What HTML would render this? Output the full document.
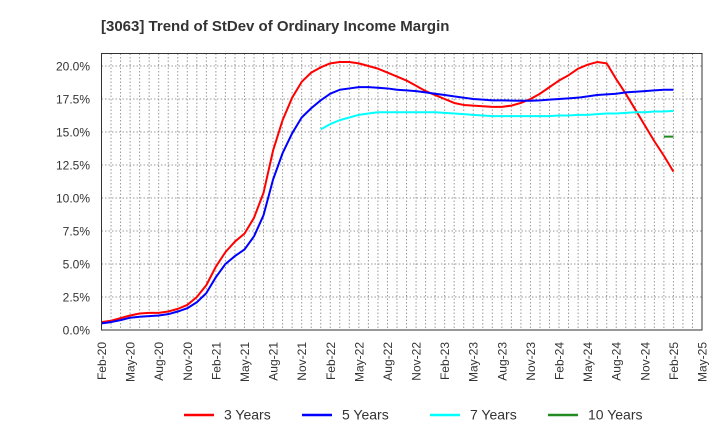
<!DOCTYPE html>
<html><head><meta charset="utf-8"><style>
body{margin:0;background:#fff;}
svg{display:block;font-family:"Liberation Sans",Arial,sans-serif;}
</style></head><body>
<svg id="chart" width="720" height="440" viewBox="0 0 720 440" xmlns="http://www.w3.org/2000/svg">
<text x="101" y="31" font-size="15" font-weight="bold" fill="#333">[3063]  Trend of StDev of Ordinary Income Margin</text>
<g id="grid"></g>
<g id="series"></g>
<rect x="101.5" y="53.5" width="600.5" height="276.5" fill="none" stroke="#333" stroke-width="1"/>
<g id="yaxis"></g>
<g id="xaxis"></g>
<g id="legend"></g>
</svg>
<script>
const xTickLabels=["Feb-20","May-20","Aug-20","Nov-20","Feb-21","May-21","Aug-21","Nov-21","Feb-22","May-22","Aug-22","Nov-22","Feb-23","May-23","Aug-23","Nov-23","Feb-24","May-24","Aug-24","Nov-24","Feb-25","May-25"];
const yTickValues=[0,2.5,5,7.5,10,12.5,15,17.5,20];
const seriesNames=["3 Years","5 Years","7 Years","10 Years"];
const seriesColors=["#ff0000","#0000ff","#00ffff","#228b22"];
const red=[0.6,0.7,0.9,1.1,1.25,1.3,1.3,1.4,1.6,1.9,2.5,3.4,4.8,5.9,6.7,7.3,8.5,10.4,13.6,15.9,17.6,18.8,19.5,19.9,20.2,20.3,20.3,20.2,20.0,19.8,19.5,19.2,18.9,18.5,18.1,17.8,17.5,17.2,17.05,17.0,16.95,16.9,16.9,17.0,17.2,17.5,17.9,18.4,18.9,19.3,19.8,20.1,20.3,20.2,19.0,17.9,16.7,15.5,14.3,13.2,12.0];
const blue=[0.5,0.6,0.75,0.93,1.0,1.05,1.1,1.2,1.4,1.65,2.1,2.8,4.0,5.0,5.6,6.1,7.1,8.7,11.4,13.4,14.9,16.1,16.8,17.4,17.9,18.2,18.3,18.4,18.4,18.35,18.3,18.2,18.15,18.1,18.0,17.9,17.8,17.7,17.6,17.5,17.45,17.4,17.4,17.38,17.37,17.37,17.4,17.45,17.5,17.55,17.6,17.7,17.8,17.85,17.9,18.0,18.05,18.1,18.15,18.2,18.2];
const cyanStart=23;
const cyan=[15.2,15.6,15.9,16.1,16.3,16.4,16.5,16.5,16.5,16.5,16.5,16.5,16.5,16.45,16.4,16.35,16.3,16.25,16.2,16.2,16.2,16.2,16.2,16.2,16.2,16.25,16.25,16.3,16.3,16.35,16.4,16.4,16.45,16.5,16.5,16.55,16.55,16.6];
const greenStart=59;
const green=[14.65,14.65];
const NS="http://www.w3.org/2000/svg";
const X0=101.5,PX=9.532,Y0=330,PY=13.2;
const xs=m=>X0+m*PX, ys=v=>Y0-v*PY;
function mk(t,a,p){const e=document.createElementNS(NS,t);for(const k in a)e.setAttribute(k,a[k]);p.appendChild(e);return e;}
const grid=document.getElementById('grid');
for(let m=1;m<63;m++){const l=mk('line',{x1:xs(m),x2:xs(m),y1:53.5,y2:330,stroke:'#999','stroke-dasharray':'1.5,2','stroke-width':1},grid);

}
yTickValues.forEach(v=>{if(v===0)return;const l=mk('line',{x1:101.5,x2:702,y1:ys(v),y2:ys(v),stroke:'#999','stroke-dasharray':'1.5,2','stroke-width':1},grid);

});
const ya=document.getElementById('yaxis');
yTickValues.forEach(v=>{const t=mk('text',{x:90,y:ys(v)+4.5,'text-anchor':'end','font-size':12,fill:'#333'},ya);t.textContent=v.toFixed(1)+'%';

});
const xa=document.getElementById('xaxis');
xTickLabels.forEach((s,i)=>{const x=xs(i*3);const t=mk('text',{x:0,y:0,transform:`translate(${x+4.5},342) rotate(-90)`,'text-anchor':'end','font-size':12,fill:'#333'},xa);t.textContent=s;

});
const sg=document.getElementById('series');
function draw(arr,start,color,name){const pts=arr.map((v,i)=>xs(start+i).toFixed(2)+','+ys(v).toFixed(2)).join(' ');
const p=mk('polyline',{points:pts,fill:'none',stroke:color,'stroke-width':2,'stroke-linejoin':'round'},sg);

}
draw(red,0,seriesColors[0],'line-3-years');
draw(blue,0,seriesColors[1],'line-5-years');
draw(cyan,cyanStart,seriesColors[2],'line-7-years');
draw(green,greenStart,seriesColors[3],'line-10-years');
const lg=document.getElementById('legend');
const lx=[184,302,430,548];
seriesNames.forEach((n,i)=>{const g=mk('g',{},lg);


mk('line',{x1:lx[i],x2:lx[i]+30,y1:415,y2:415,stroke:seriesColors[i],'stroke-width':2.5},g);
const t=mk('text',{x:lx[i]+40,y:419.5,'font-size':14,fill:'#333'},g);t.textContent=n;});
</script>
</body></html>
